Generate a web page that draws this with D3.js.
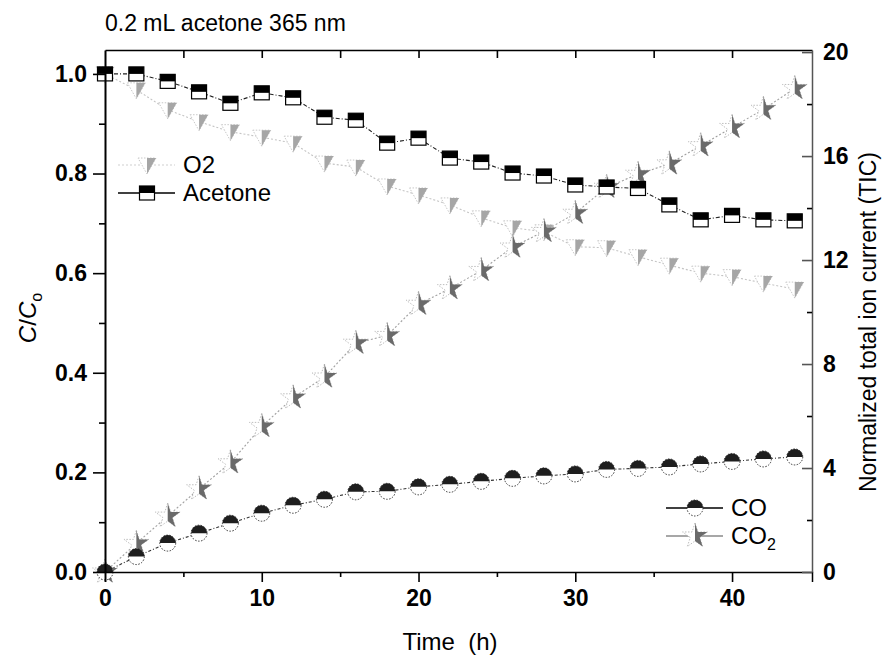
<!DOCTYPE html>
<html>
<head>
<meta charset="utf-8">
<script src="https://cdn.jsdelivr.net/npm/d3@7"></script>
<style>
    body { margin: 0; background: #fff; }
    text { font-family: "Liberation Sans", Arial, sans-serif; }
</style>
</head>
<body>
<script>
(function () {

    // Data
    var times   = [0, 2, 4, 6, 8, 10, 12, 14, 16, 18, 20, 22, 24, 26, 28, 30, 32, 34, 36, 38, 40, 42, 44];
    var acetone = [1.0, 1.0, 0.985, 0.964, 0.941, 0.962, 0.952, 0.913, 0.907, 0.861, 0.871, 0.831, 0.823, 0.801, 0.795, 0.777, 0.773, 0.770, 0.737, 0.707, 0.716, 0.707, 0.705];
    var o2      = [1.0, 0.968, 0.928, 0.904, 0.884, 0.873, 0.861, 0.821, 0.813, 0.775, 0.757, 0.737, 0.711, 0.691, 0.683, 0.653, 0.651, 0.633, 0.616, 0.600, 0.593, 0.580, 0.568];
    var co      = [0.0, 0.031, 0.058, 0.078, 0.098, 0.118, 0.134, 0.146, 0.161, 0.162, 0.171, 0.176, 0.182, 0.188, 0.193, 0.197, 0.206, 0.208, 0.211, 0.217, 0.222, 0.227, 0.231];
    var co2     = [0.0, 1.1, 2.15, 3.2, 4.2, 5.6, 6.7, 7.5, 8.8, 9.1, 10.3, 10.9, 11.6, 12.5, 13.1, 13.8, 14.8, 15.3, 15.7, 16.4, 17.1, 17.8, 18.6];

    var xTicks = [0, 10, 20, 30, 40];
    var leftTicks = [0, 0.2, 0.4, 0.6, 0.8, 1.0];
    var rightTicks = [0, 4, 8, 12, 16, 20];

    // Plot box
    var W = 882, H = 656;
    var margin = {top: 50, right: 70, bottom: 84, left: 105},
        width = W - margin.left - margin.right,
        height = H - margin.top - margin.bottom;

    var svg = d3.select("body").append("svg")
        .attr("width", W)
        .attr("height", H);

    var g = svg.append("g")
        .attr("transform", "translate(" + margin.left + "," + margin.top + ")");

    var x = d3.scaleLinear().domain([0, 45.1]).range([0, width]);
    var yL = d3.scaleLinear().domain([0, 1.048]).range([height, 0]);
    var yR = d3.scaleLinear().domain([0, 20.08]).range([height, 0]);

    var fontSize = "24px";
    var tickFont = "23px";

    // clip path for half filled stars
    var defs = svg.append("defs");
    defs.append("clipPath").attr("id", "rightHalf")
        .append("rect").attr("x", 0).attr("y", -20).attr("width", 20).attr("height", 40);

    // Connecting lines
    function drawLine(vals, yScale, color, dash) {
        g.append("path")
            .datum(times)
            .attr("fill", "none")
            .attr("stroke", color)
            .attr("stroke-width", 1.1)
            .attr("stroke-dasharray", dash)
            .attr("d", d3.line()
                .x(function (d) { return x(d); })
                .y(function (d, i) { return yScale(vals[i]); }));
    }

    drawLine(o2, yL, "#c4c4c4", "2,2");
    drawLine(co2, yR, "#a0a0a0", "2,2");
    drawLine(co, yL, "#333", "3,2,1,2");
    drawLine(acetone, yL, "#222", "4,2,1,2");

    // Marker painters (draw into a group centred on the point)
    function squareMarker(sel) {
        sel.append("rect").attr("x", -7.5).attr("y", -7).attr("width", 15).attr("height", 14)
            .attr("fill", "#fff").attr("stroke", "#000").attr("stroke-width", 1.2);
        sel.append("rect").attr("x", -7.5).attr("y", -7).attr("width", 15).attr("height", 7)
            .attr("fill", "#000");
    }

    function triangleMarker(sel) {
        sel.append("path").attr("d", "M-9,-7L9,-7L0,9Z")
            .attr("fill", "#fff").attr("stroke", "#c8c8c8").attr("stroke-width", 1)
            .attr("stroke-dasharray", "1.5,1.5");
        sel.append("path").attr("d", "M0,-7L9,-7L0,9Z")
            .attr("fill", "#a6a6a6");
    }

    function circleMarker(sel) {
        sel.append("circle").attr("r", 8)
            .attr("fill", "#fff").attr("stroke", "#333").attr("stroke-width", 1)
            .attr("stroke-dasharray", "1.5,1.5");
        sel.append("path").attr("d", "M-8,0A8,8 0 0 1 8,0Z")
            .attr("fill", "#1e1e1e");
    }

    var starPath = d3.symbol().type(d3.symbolStar).size(190)();
    function starMarker(sel) {
        sel.append("path").attr("d", starPath)
            .attr("fill", "#fff").attr("stroke", "#bdbdbd").attr("stroke-width", 1)
            .attr("stroke-dasharray", "1.5,1.5");
        sel.append("path").attr("d", starPath)
            .attr("clip-path", "url(#rightHalf)")
            .attr("fill", "#6a6a6a");
    }

    function drawMarkers(vals, yScale, painter) {
        g.append("g").selectAll("g")
            .data(times)
            .enter().append("g")
            .attr("transform", function (d, i) {
                return "translate(" + x(d) + "," + yScale(vals[i]) + ")";
            })
            .each(function () { painter(d3.select(this)); });
    }

    drawMarkers(o2, yL, triangleMarker);
    drawMarkers(co2, yR, starMarker);
    drawMarkers(co, yL, circleMarker);
    drawMarkers(acetone, yL, squareMarker);

    // Axes
    var minorX = d3.range(5, 45, 10);
    var minorL = [0.1, 0.3, 0.5, 0.7, 0.9];
    var minorR = [2, 6, 10, 14, 18];

    // bottom
    g.append("g")
        .attr("transform", "translate(0," + height + ")")
        .call(d3.axisBottom(x).tickValues(xTicks).tickSize(10).tickPadding(8).tickFormat(d3.format("d")));
    g.append("g")
        .attr("transform", "translate(0," + height + ")")
        .call(d3.axisBottom(x).tickValues(minorX).tickSize(5).tickFormat(""))
        .select(".domain").remove();

    // top (inward ticks, no labels)
    g.append("g")
        .call(d3.axisBottom(x).tickValues(d3.range(5, 45, 5)).tickSize(8).tickFormat("").tickSizeOuter(0));

    // left
    var leftAxis = g.append("g")
        .call(d3.axisLeft(yL).tickValues(leftTicks).tickSize(12).tickPadding(6).tickFormat(d3.format(".1f")).tickSizeOuter(0));
    g.append("g")
        .call(d3.axisLeft(yL).tickValues(minorL).tickSize(6).tickFormat(""))
        .select(".domain").remove();

    // right (inward ticks, gray)
    var rightAxis = g.append("g")
        .attr("transform", "translate(" + width + ",0)")
        .call(d3.axisRight(yR).tickValues(rightTicks).tickSize(-10).tickPadding(11).tickSizeOuter(0));
    g.append("g")
        .attr("transform", "translate(" + width + ",0)")
        .call(d3.axisRight(yR).tickValues(minorR).tickSize(-5).tickFormat(""))
        .select(".domain").remove();

    g.selectAll(".domain").attr("stroke", "#000").attr("stroke-width", 1.5);
    leftAxis.select(".domain").attr("stroke-width", 2);
    rightAxis.selectAll("line, .domain").attr("stroke", "#555");
    g.selectAll(".tick line").attr("stroke-width", 1.6);
    g.selectAll(".tick text")
        .attr("fill", "#000")
        .style("font-family", "'Liberation Sans', Arial, sans-serif")
        .style("font-size", tickFont)
        .style("font-weight", "bold");

    // Titles
    svg.append("text")
        .attr("x", 105).attr("y", 31)
        .style("font-size", "23px")
        .text("0.2 mL acetone 365 nm");

    svg.append("text")
        .attr("x", 450).attr("y", 650)
        .attr("text-anchor", "middle")
        .style("font-size", fontSize)
        .style("white-space", "pre")
        .text("Time  (h)");

    var yLab = svg.append("text")
        .attr("transform", "translate(36," + 318 + ") rotate(-90)")
        .attr("text-anchor", "middle")
        .style("font-size", fontSize);
    yLab.append("tspan").style("font-style", "italic").text("C");
    yLab.append("tspan").text("/");
    yLab.append("tspan").style("font-style", "italic").text("C");
    yLab.append("tspan").attr("dy", 6).style("font-size", "16px").text("o");

    svg.append("text")
        .attr("transform", "translate(876," + 322 + ") rotate(-90)")
        .attr("text-anchor", "middle")
        .style("font-size", "23px")
        .text("Normalized total ion current (TIC)");

    // Legends
    function legendItem(lx, ly, label, painter, lineColor, dash, sub) {
        var lg = svg.append("g").attr("transform", "translate(" + lx + "," + ly + ")");
        if (lineColor) {
            lg.append("line").attr("x1", -29).attr("x2", 28)
                .attr("stroke", lineColor).attr("stroke-width", 1.3)
                .attr("stroke-dasharray", dash);
        }
        painter(lg);
        var t = lg.append("text").attr("x", 36).attr("y", 8).style("font-size", fontSize).text(label);
        if (sub) {
            t.append("tspan").attr("dy", 6).style("font-size", "16px").text(sub);
        }
    }

    legendItem(147, 165, "O2", triangleMarker, "#e0e0e0", "2,2");
    legendItem(147, 193, "Acetone", squareMarker, "#000", null);
    legendItem(695, 508, "CO", circleMarker, "#000", null);
    legendItem(695, 536, "CO", starMarker, "#8a8a8a", null, "2");

})();
</script>
</body>
</html>
